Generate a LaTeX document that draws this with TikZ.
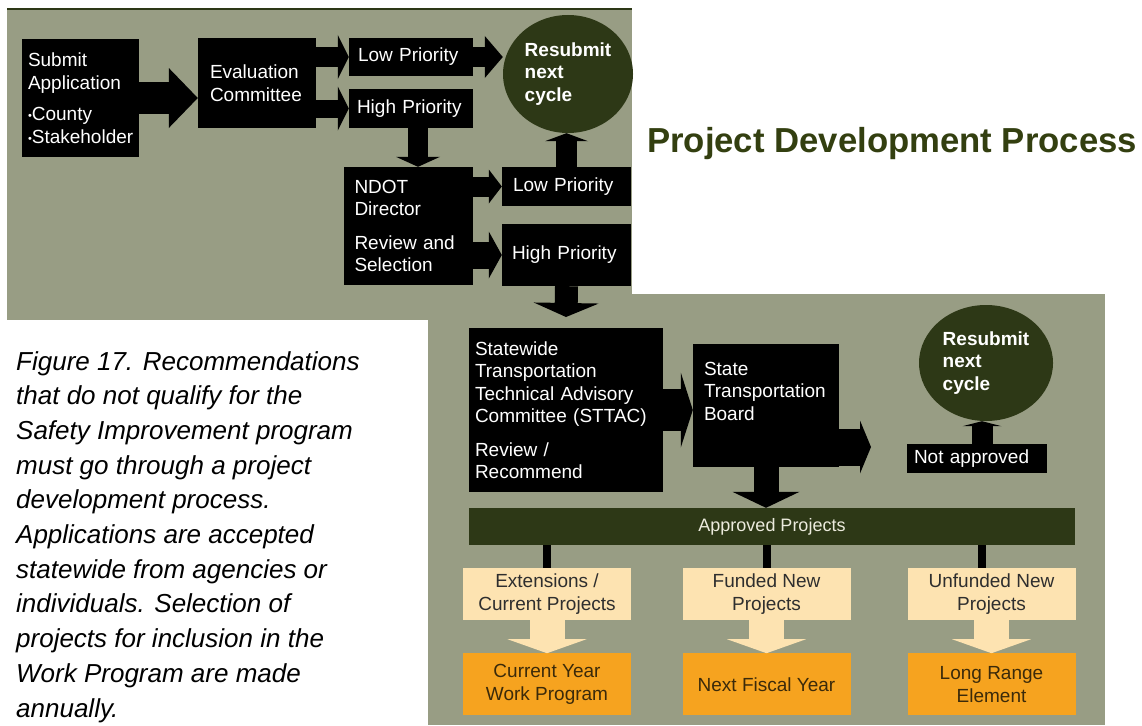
\documentclass[tikz,border=0pt]{standalone}
\usepackage{fontspec}
\setmainfont{Liberation Sans}
\usetikzlibrary{shapes, arrows.meta}
\usetikzlibrary{positioning}

\definecolor{panelgreen}{HTML}{989D84}
\definecolor{darkolive}{HTML}{2D3816}
\definecolor{titlegreen}{HTML}{333F10}
\definecolor{peach}{HTML}{FDE3B1}
\definecolor{ogfill}{HTML}{F6A31F}
\definecolor{pktext}{HTML}{2E2E2E}
\definecolor{ogtext}{HTML}{3B2A0A}
\definecolor{barlabel}{HTML}{ECEBDD}

\newcommand{\bul}{\raisebox{1pt}{\fontsize{11}{11}\selectfont\textbullet}}
\hyphenpenalty=10000

\begin{document}
\begin{tikzpicture}[x=1pt, y=-1pt,
  every node/.style={font=\fontsize{19}{22.5}\selectfont, inner ysep=0pt},
  blackbox/.style={fill=black, text=white, align=left},
  blob/.style={ellipse, fill=darkolive, text=white, align=left, inner sep=0pt, font=\bfseries\fontsize{19}{22.5}\selectfont},
  peachbox/.style={fill=peach, text=pktext, align=center, minimum width=168pt, minimum height=52pt, inner sep=0pt},
  orangebox/.style={fill=ogfill, text=ogtext, align=center, minimum width=168pt, minimum height=62pt, inner sep=0pt},
  blk/.style n args={3}{draw=black, line width=#1, -{Triangle[width=#2, length=#3, line width=0pt]}},
  ]
\fill[white] (0,0) rectangle (1142,725);
\useasboundingbox (0,0) rectangle (1142,725);

\fill[panelgreen] (428,294) rectangle (1105,725);
\fill[panelgreen] (7,8) rectangle (632,320);
\draw[darkolive, line width=2pt] (7,9) -- (632,9);

\node[blackbox, minimum height=118pt, text width=105pt, inner xsep=6pt] (sub) at (80.5,98) {Submit\\Application\\[9pt]\bul County\\\bul Stakeholder};
\node[blackbox, minimum height=90pt, text width=94pt, inner xsep=12pt] (eval) at (257,83) {Evaluation\\Committee};
\node[blackbox, minimum height=38pt, text width=106pt, inner xsep=9pt] (lowa) at (411,57) {Low Priority};
\node[blackbox, minimum height=39pt, text width=108pt, inner xsep=8pt] (higha) at (411,108.5) {High Priority};
\node[blob, minimum width=130pt, minimum height=118pt] (circa) at (568,74) {Resubmit\\next\\cycle};
\node[blackbox, minimum height=118pt, text width=108pt, inner xsep=10.5pt] (ndot) at (408.5,226) {NDOT\\Director\\[11pt]Review and\\Selection};
\node[blackbox, minimum height=39pt, text width=107pt, inner xsep=11pt] (lowb) at (566.5,186.5) {Low Priority};
\node[blackbox, minimum height=62pt, text width=109pt, inner xsep=10pt] (highb) at (566.5,255) {High Priority};

\node[anchor=base west, inner sep=0pt, text=titlegreen, font=\bfseries\fontsize{34.7}{40}\selectfont] (title) at (647,152) {Project Development Process};

\node[anchor=north west, align=left, inner sep=0pt, font=\itshape\fontsize{26}{34.7}\selectfont] (caption) at (16,351) {Figure 17. Recommendations\\that do not qualify for the\\Safety Improvement program\\must go through a project\\development process.\\Applications are accepted\\statewide from agencies or\\individuals. Selection of\\projects for inclusion in the\\Work Program are made\\annually.};

\node[blackbox, minimum height=164pt, text width=182pt, inner xsep=6pt] (sttac) at (566,410) {Statewide\\Transportation\\Technical Advisory\\Committee (STTAC)\\[11pt]Review /\\Recommend};
\node[blackbox, minimum height=123pt, text width=124pt, inner xsep=11pt] (board) at (766,405.5) {State\\Transportation\\Board\\\strut};
\node[blackbox, minimum height=29pt, text width=126pt, inner xsep=7pt] (nota) at (977,458.5) {Not approved};
\node[blob, minimum width=134pt, minimum height=116pt] (circb) at (986,363) {Resubmit\\next\\cycle};
\node[fill=darkolive, text=barlabel, minimum width=606pt, minimum height=37pt, font=\fontsize{18}{21}\selectfont] (appr) at (772,526.5) {Approved Projects};

\node[peachbox] (pk1) at (547,594) {Extensions /\\Current Projects};
\node[peachbox] (pk2) at (766.5,594) {Funded New\\Projects};
\node[peachbox] (pk3) at (991.5,594) {Unfunded New\\Projects};
\node[orangebox, below=33pt of pk1] (og1) {Current Year\\Work Program};
\node[orangebox, below=33pt of pk2] (og2) {Next Fiscal Year};
\node[orangebox, below=33pt of pk3] (og3) {Long Range\\Element};

\coordinate (tipa) at (566,317);
\coordinate (tipb) at (871,447);

\draw[blk={32pt}{60pt}{29pt}] (sub.east) -- (sub.east -| eval.west);
\draw[blk={20pt}{44pt}{11pt}] (eval.east |- lowa.west) -- (lowa.west);
\draw[blk={18pt}{44pt}{11pt}] (eval.east |- higha.west) -- (higha.west);
\draw[blk={19pt}{42pt}{18pt}] (lowa.east) -- (lowa.east -| circa.west);
\draw[blk={20pt}{44pt}{10pt}] ([xshift=7pt]higha.south) -- ([xshift=7pt]higha.south |- ndot.north);
\draw[blk={20pt}{34pt}{13pt}] (ndot.east |- lowb.west) -- (lowb.west);
\draw[blk={27pt}{47pt}{13pt}] (ndot.east |- highb.west) -- (highb.west);
\draw[blk={21pt}{43pt}{8pt}] (lowb.north) -- (lowb.north |- circa.south);
\draw[blk={23pt}{65pt}{14pt}] (highb.south) -- (tipa);
\draw[blk={42pt}{75pt}{12pt}] (sttac.east) -- (sttac.east -| board.west);
\draw[blk={37pt}{53pt}{11pt}] (board.east |- tipb) -- (tipb);
\draw[blk={21pt}{39pt}{5pt}] ([xshift=5pt]nota.north) -- ([xshift=5pt]nota.north |- circb.south);
\draw[blk={25pt}{67pt}{16pt}] (board.south) -- (board.south |- appr.north);

\draw[line width=8pt] (appr.south -| pk1.north) -- (pk1.north);
\draw[line width=8pt] (appr.south -| pk2.north) -- (pk2.north);
\draw[line width=8pt] ([xshift=-10pt]appr.south -| pk3.north) -- ([xshift=-10pt]pk3.north);

\draw[blk={35pt}{79pt}{14pt}, draw=peach] (pk1.south) -- (og1.north);
\draw[blk={35pt}{79pt}{14pt}, draw=peach] (pk2.south) -- (og2.north);
\draw[blk={35pt}{79pt}{14pt}, draw=peach] (pk3.south) -- (og3.north);
\end{tikzpicture}
\end{document}
